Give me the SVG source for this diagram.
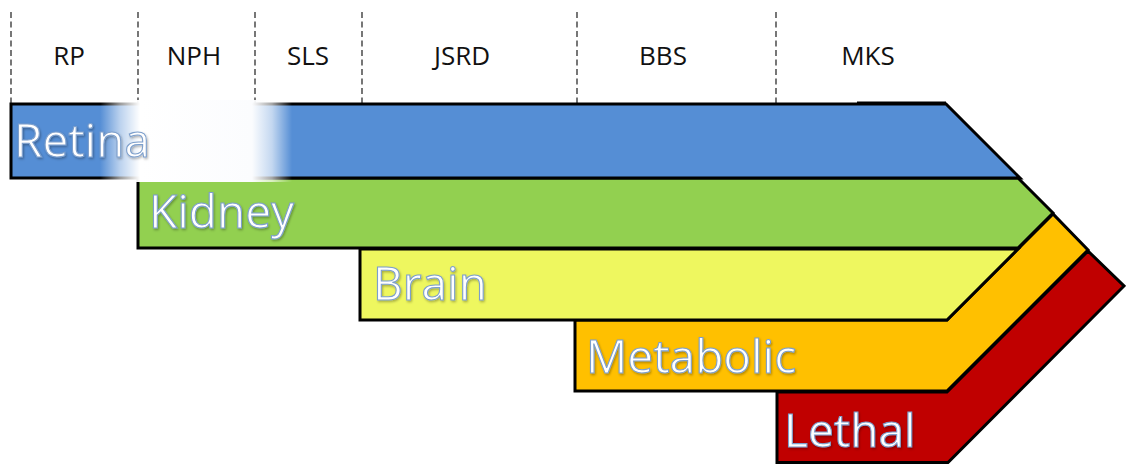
<svg xmlns="http://www.w3.org/2000/svg" width="1126" height="465" viewBox="0 0 1126 465">
  <defs>
    <style>
      .hdr { font-family: "Open Sans", "Liberation Sans", sans-serif; font-size: 26px; fill: #111; text-anchor: middle; }
      .sep { stroke: #555; stroke-width: 1.6; stroke-dasharray: 6 3.5; fill: none; }
      .bar { stroke: #000; stroke-width: 3; stroke-linejoin: miter; }
      .lbl { font-family: "Open Sans", "Liberation Sans", sans-serif; font-size: 46px; fill: #fff; stroke: #7d9fcc; stroke-width: 1.1; filter: url(#shadow); }
    </style>
    <filter id="shadow" x="-10%" y="-20%" width="120%" height="150%">
      <feDropShadow dx="1" dy="1.5" stdDeviation="1" flood-color="#000" flood-opacity="0.3"/>
    </filter>
    <linearGradient id="fade" x1="100" y1="0" x2="300" y2="0" gradientUnits="userSpaceOnUse">
      <stop offset="0" stop-color="#fff" stop-opacity="0"/>
      <stop offset="0.1" stop-color="#fff" stop-opacity="0.6"/>
      <stop offset="0.2" stop-color="#fff" stop-opacity="1"/>
      <stop offset="0.76" stop-color="#fbfcfe" stop-opacity="1"/>
      <stop offset="0.86" stop-color="#fff" stop-opacity="0.65"/>
      <stop offset="0.96" stop-color="#fff" stop-opacity="0"/>
    </linearGradient>
  </defs>
  <rect width="1126" height="465" fill="#fff"/>

  <g id="separators">
    <line class="sep" x1="11" y1="12" x2="11" y2="104"/>
    <line class="sep" x1="138" y1="12" x2="138" y2="104"/>
    <line class="sep" x1="255" y1="12" x2="255" y2="104"/>
    <line class="sep" x1="362" y1="12" x2="362" y2="104"/>
    <line class="sep" x1="577" y1="12" x2="577" y2="104"/>
    <line class="sep" x1="776" y1="12" x2="776" y2="104"/>
  </g>

  <g id="headers">
    <text class="hdr" x="69" y="65">RP</text>
    <text class="hdr" x="194" y="65">NPH</text>
    <text class="hdr" x="308" y="65">SLS</text>
    <text class="hdr" x="462" y="65">JSRD</text>
    <text class="hdr" x="663" y="65">BBS</text>
    <text class="hdr" x="868" y="65">MKS</text>
  </g>

  <g id="lethal">
    <polygon class="bar" fill="#c00000" points="777,392 947,392 1088,251 1124,286 948,462.5 777,462.5"/>
    <text class="lbl" x="784" y="447">Lethal</text>
  </g>

  <g id="metabolic">
    <polygon class="bar" fill="#ffc000" points="575,320 947,320 1053,214 1088,250 947,391 575,391"/>
    <text class="lbl" x="586" y="373">Metabolic</text>
  </g>

  <g id="brain">
    <polygon class="bar" fill="#eef75f" points="360,249 1018,249 947,320 360,320"/>
    <text class="lbl" x="373" y="300">Brain</text>
  </g>

  <g id="kidney">
    <polygon class="bar" fill="#92d050" points="138,178 1018,178 1053,213 1018,248 138,248"/>
    <text class="lbl" x="149" y="228">Kidney</text>
  </g>

  <g id="retina">
    <polygon class="bar" fill="#558ed5" points="11,104 946,104 1020,178 11,178"/>
    <line x1="857" y1="103" x2="946" y2="103" stroke="#000" stroke-width="3"/>
    <rect x="100" y="100" width="200" height="82" fill="url(#fade)"/>
    <text class="lbl" x="14" y="157">Retina</text>
  </g>
</svg>
